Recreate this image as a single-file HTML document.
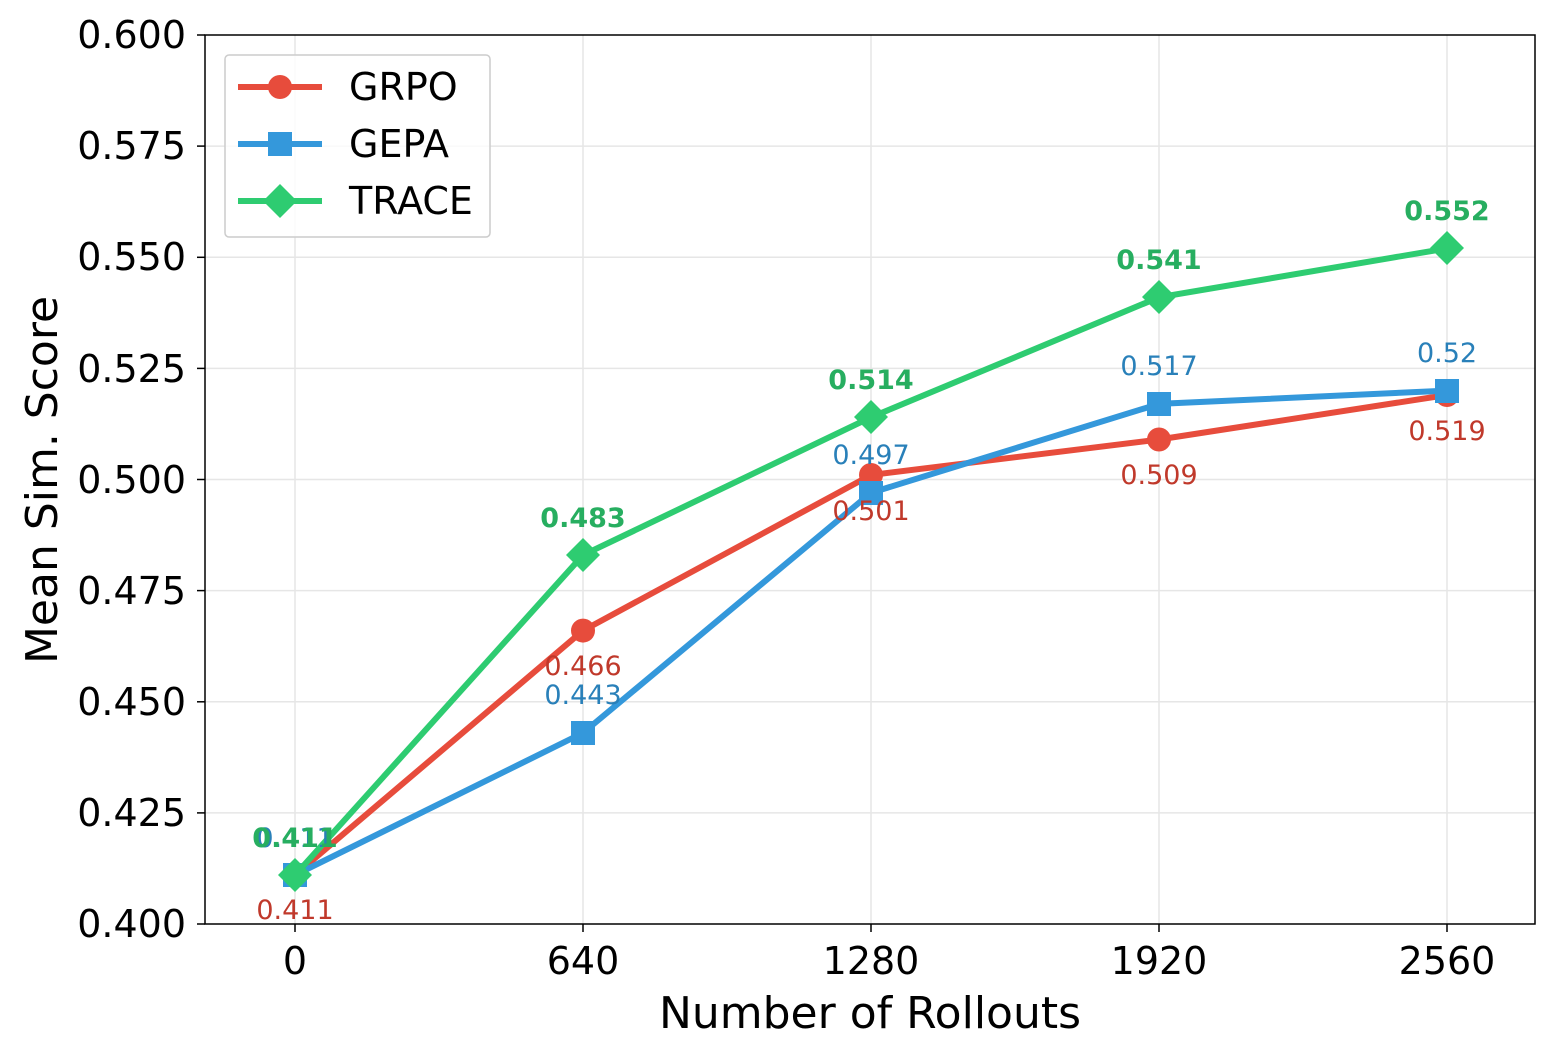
<!DOCTYPE html>
<html><head><meta charset="utf-8"><style>body{margin:0;background:#fff}svg{display:block}text{font-family:"DejaVu Sans","Liberation Sans",sans-serif}</style></head><body>
<svg width="1555" height="1056" xmlns="http://www.w3.org/2000/svg">
<rect width="1555" height="1056" fill="#fff"/>
<g stroke="#e6e6e6" stroke-width="1.5">
<line x1="295" y1="35" x2="295" y2="924"/><line x1="583" y1="35" x2="583" y2="924"/><line x1="871" y1="35" x2="871" y2="924"/><line x1="1159" y1="35" x2="1159" y2="924"/><line x1="1447" y1="35" x2="1447" y2="924"/>
<line x1="205" y1="812.9" x2="1535" y2="812.9"/><line x1="205" y1="701.8" x2="1535" y2="701.8"/><line x1="205" y1="590.6" x2="1535" y2="590.6"/><line x1="205" y1="479.5" x2="1535" y2="479.5"/><line x1="205" y1="368.4" x2="1535" y2="368.4"/><line x1="205" y1="257.3" x2="1535" y2="257.3"/><line x1="205" y1="146.1" x2="1535" y2="146.1"/>
</g>
<g stroke="#000" stroke-width="1.5">
<line x1="295" y1="924" x2="295" y2="932"/><line x1="583" y1="924" x2="583" y2="932"/><line x1="871" y1="924" x2="871" y2="932"/><line x1="1159" y1="924" x2="1159" y2="932"/><line x1="1447" y1="924" x2="1447" y2="932"/>
<line x1="197" y1="924" x2="205" y2="924"/><line x1="197" y1="812.9" x2="205" y2="812.9"/><line x1="197" y1="701.8" x2="205" y2="701.8"/><line x1="197" y1="590.6" x2="205" y2="590.6"/><line x1="197" y1="479.5" x2="205" y2="479.5"/><line x1="197" y1="368.4" x2="205" y2="368.4"/><line x1="197" y1="257.3" x2="205" y2="257.3"/><line x1="197" y1="146.1" x2="205" y2="146.1"/><line x1="197" y1="35" x2="205" y2="35"/>
</g>
<g font-size="38" text-anchor="middle" fill="#000">
<text x="295" y="974">0</text><text x="583" y="974">640</text><text x="871" y="974">1280</text><text x="1159" y="974">1920</text><text x="1447" y="974">2560</text>
</g>
<g font-size="38" text-anchor="end" fill="#000">
<text x="186" y="937">0.400</text><text x="186" y="826">0.425</text><text x="186" y="715">0.450</text><text x="186" y="604">0.475</text><text x="186" y="493">0.500</text><text x="186" y="382">0.525</text><text x="186" y="270">0.550</text><text x="186" y="159">0.575</text><text x="186" y="48">0.600</text>
</g>
<text x="870" y="1028" font-size="44" text-anchor="middle">Number of Rollouts</text>
<text transform="translate(57,480) rotate(-90)" font-size="44" text-anchor="middle">Mean Sim. Score</text>
<polyline points="295,875.1 583,630.6 871,475 1159,439.5 1447,395" fill="none" stroke="#e74c3c" stroke-width="6"/>
<g fill="#e74c3c"><circle cx="295" cy="875.1" r="12"/><circle cx="583" cy="630.6" r="12"/><circle cx="871" cy="475" r="12"/><circle cx="1159" cy="439.5" r="12"/><circle cx="1447" cy="395" r="12"/></g>
<polyline points="295,875.1 583,732.9 871,492.8 1159,403.9 1447,390.6" fill="none" stroke="#3498db" stroke-width="6"/>
<g fill="#3498db"><rect x="283" y="863" width="24" height="24"/><rect x="571" y="721" width="24" height="24"/><rect x="859" y="481" width="24" height="24"/><rect x="1147" y="392" width="24" height="24"/><rect x="1435" y="379" width="24" height="24"/></g>
<polyline points="295,875.1 583,555.1 871,417.3 1159,297.3 1447,248.4" fill="none" stroke="#2ecc71" stroke-width="6"/>
<g fill="#2ecc71"><polygon points="295,858 312,875 295,892 278,875"/><polygon points="583,538 600,555 583,572 566,555"/><polygon points="871,400 888,417 871,434 854,417"/><polygon points="1159,280 1176,297 1159,314 1142,297"/><polygon points="1447,231 1464,248 1447,265 1430,248"/></g>
<g font-size="27" text-anchor="middle" fill="#c0392b">
<text x="295" y="919">0.411</text><text x="583" y="675">0.466</text><text x="871" y="520">0.501</text><text x="1159" y="484">0.509</text><text x="1447" y="440">0.519</text>
</g>
<g font-size="27" text-anchor="middle" fill="#2980b9">
<text x="295" y="847">0.411</text><text x="583" y="704">0.443</text><text x="871" y="464">0.497</text><text x="1159" y="375">0.517</text><text x="1447" y="362">0.52</text>
</g>
<g font-size="27" font-weight="bold" text-anchor="middle" fill="#27ae60">
<text x="295" y="847">0.411</text><text x="583" y="527">0.483</text><text x="871" y="389">0.514</text><text x="1159" y="269">0.541</text><text x="1447" y="220">0.552</text>
</g>
<rect x="205" y="35" width="1330" height="889" fill="none" stroke="#000" stroke-width="1.5"/>
<rect x="225" y="55" width="265" height="182" rx="4" fill="#fff" fill-opacity="0.8" stroke="#ccc" stroke-width="1.5"/>
<line x1="238" y1="87" x2="322" y2="87" stroke="#e74c3c" stroke-width="6"/><circle cx="280" cy="87" r="12" fill="#e74c3c"/>
<line x1="238" y1="144" x2="322" y2="144" stroke="#3498db" stroke-width="6"/><rect x="268" y="132" width="24" height="24" fill="#3498db"/>
<line x1="238" y1="201" x2="322" y2="201" stroke="#2ecc71" stroke-width="6"/><polygon points="280,184 297,201 280,218 263,201" fill="#2ecc71"/>
<g font-size="38" fill="#000"><text x="349" y="100">GRPO</text><text x="349" y="157">GEPA</text><text x="349" y="214">TRACE</text></g>
</svg>
</body></html>
